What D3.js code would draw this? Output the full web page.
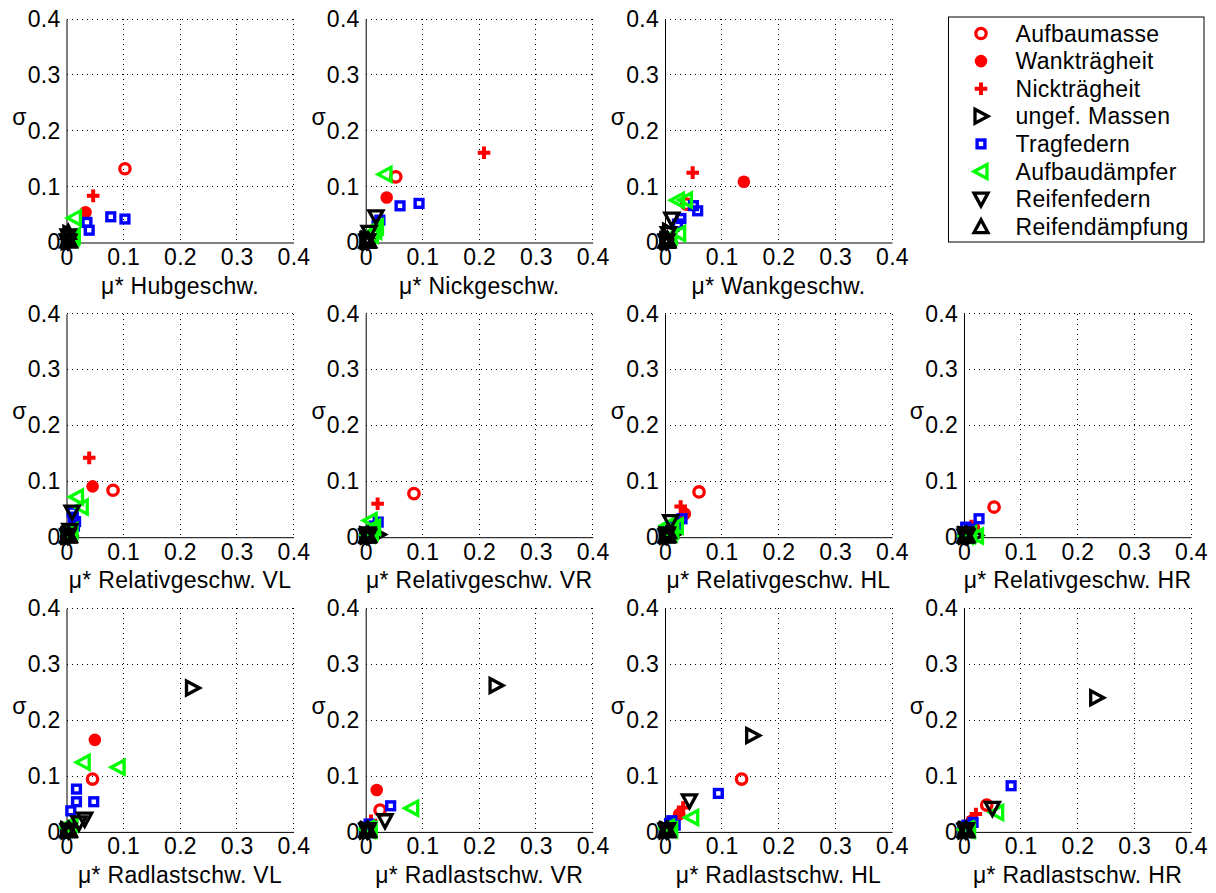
<!DOCTYPE html>
<html>
<head>
<meta charset="utf-8">
<script src="https://cdn.jsdelivr.net/npm/d3@7"></script>
<style>
  html, body { margin: 0; padding: 0; background: #fff; }
  svg { display: block; }
  text { font-family: "Liberation Sans", Arial, Helvetica, sans-serif; fill: #000; letter-spacing: 0.3px; }
</style>
</head>
<body>
<svg id="chart" width="1216" height="893"></svg>
<script>
// Sensitivity measures (mu*, sigma) for each output quantity
const xLabels = [
  "\u03bc* Hubgeschw.", "\u03bc* Nickgeschw.", "\u03bc* Wankgeschw.",
  "\u03bc* Relativgeschw. VL", "\u03bc* Relativgeschw. VR", "\u03bc* Relativgeschw. HL", "\u03bc* Relativgeschw. HR",
  "\u03bc* Radlastschw. VL", "\u03bc* Radlastschw. VR", "\u03bc* Radlastschw. HL", "\u03bc* Radlastschw. HR"
];
const yLabel = "\u03c3";
const tickValues = [0, 0.1, 0.2, 0.3, 0.4];
const tickLabels = ["0", "0.1", "0.2", "0.3", "0.4"];
const seriesNames = ["Aufbaumasse", "Wanktr\u00e4gheit", "Nicktr\u00e4gheit", "ungef. Massen",
  "Tragfedern", "Aufbaud\u00e4mpfer", "Reifenfedern", "Reifend\u00e4mpfung"];

// one entry per output quantity, each a list of [mu*, sigma] points
const aufbaumasse = [
  [[0.103, 0.132]], [[0.053, 0.1175]], [[0.038, 0.0686]],
  [[0.082, 0.084]], [[0.085, 0.078]], [[0.060, 0.081]], [[0.053, 0.054]],
  [[0.0458, 0.0946]], [[0.0253, 0.039]], [[0.135, 0.0946]], [[0.040, 0.048]]
];
const wanktraegheit = [
  [[0.0335, 0.054]], [[0.037, 0.0805]], [[0.139, 0.1086]],
  [[0.046, 0.091]], [[0.0147, 0.0168]], [[0.035, 0.042]], [[0.0176, 0.0168]],
  [[0.050, 0.1647]], [[0.0194, 0.0749]], [[0.025, 0.0317]], [[0.0135, 0.020]]
];
const nicktraegheit = [
  [[0.047, 0.0835]], [[0.2085, 0.1605]], [[0.0488, 0.125]],
  [[0.040, 0.142]], [[0.021, 0.060]], [[0.0276, 0.055]], [[0.013, 0.020]],
  [[0.006, 0.005]], [[0.0094, 0.020]], [[0.032, 0.0437]], [[0.021, 0.032]]
];
const ungefMassen = [
  [[0.006, 0.016], [0.004, 0.004], [0.003, 0.002], [0.005, 0.003]],
  [[0.004, 0.006], [0.003, 0.003], [0.005, 0.002], [0.002, 0.004]],
  [[0.008, 0.020], [0.004, 0.005], [0.003, 0.003], [0.005, 0.002]],
  [[0.004, 0.003], [0.002, 0.002], [0.003, 0.004], [0.005, 0.002]],
  [[0.022, 0.005], [0.003, 0.002], [0.004, 0.003], [0.002, 0.004]],
  [[0.014, 0.005], [0.003, 0.002], [0.004, 0.003], [0.002, 0.004]],
  [[0.020, 0.003], [0.003, 0.002], [0.004, 0.003], [0.002, 0.004]],
  [[0.222, 0.2575], [0.004, 0.003], [0.003, 0.002], [0.002, 0.004]],
  [[0.2297, 0.262], [0.003, 0.003], [0.002, 0.002], [0.004, 0.004]],
  [[0.1545, 0.1725], [0.003, 0.003], [0.002, 0.002], [0.004, 0.004]],
  [[0.2338, 0.240], [0.003, 0.003], [0.002, 0.002], [0.004, 0.004]]
];
const tragfedern = [
  [[0.078, 0.046], [0.103, 0.042], [0.036, 0.036], [0.040, 0.022]],
  [[0.0605, 0.0656], [0.094, 0.070], [0.025, 0.040], [0.020, 0.030]],
  [[0.0576, 0.0567], [0.050, 0.066], [0.028, 0.043], [0.022, 0.033]],
  [[0.012, 0.036], [0.016, 0.028], [0.010, 0.045], [0.014, 0.020]],
  [[0.022, 0.027], [0.015, 0.020], [0.010, 0.012], [0.008, 0.008]],
  [[0.030, 0.033], [0.022, 0.025], [0.014, 0.015], [0.018, 0.020]],
  [[0.0265, 0.033], [0.003, 0.018], [0.008, 0.010], [0.012, 0.014]],
  [[0.0176, 0.0766], [0.0176, 0.054], [0.048, 0.054], [0.0076, 0.0377]],
  [[0.044, 0.0467], [0.006, 0.014], [0.010, 0.010], [0.004, 0.006]],
  [[0.094, 0.0689], [0.012, 0.020], [0.018, 0.012], [0.008, 0.015]],
  [[0.083, 0.0826], [0.016, 0.017], [0.005, 0.012], [0.010, 0.010]]
];
const aufbaudaempfer = [
  [[0.014, 0.044], [0.010, 0.009], [0.008, 0.006], [0.012, 0.012]],
  [[0.034, 0.122], [0.019, 0.028], [0.010, 0.013], [0.016, 0.020]],
  [[0.022, 0.0758], [0.036, 0.076], [0.024, 0.016], [0.009, 0.010]],
  [[0.0176, 0.072], [0.026, 0.054], [0.006, 0.006], [0.008, 0.012]],
  [[0.008, 0.030], [0.010, 0.009], [0.014, 0.018], [0.005, 0.004]],
  [[0.005, 0.021], [0.009, 0.006], [0.020, 0.020], [0.012, 0.012]],
  [[0.008, 0.003], [0.022, 0.002], [0.010, 0.006], [0.004, 0.002]],
  [[0.0294, 0.1245], [0.091, 0.1156], [0.003, 0.008], [0.008, 0.014]],
  [[0.081, 0.0425], [0.003, 0.006], [0.008, 0.004], [0.005, 0.003]],
  [[0.047, 0.0257], [0.005, 0.005], [0.010, 0.004], [0.004, 0.008]],
  [[0.0576, 0.0347], [0.005, 0.005], [0.008, 0.003], [0.003, 0.004]]
];
const reifenfedern = [
  [[0.003, 0.012], [0.002, 0.003], [0.004, 0.002], [0.002, 0.002]],
  [[0.018, 0.046], [0.006, 0.018], [0.003, 0.003], [0.002, 0.002]],
  [[0.012, 0.042], [0.006, 0.016], [0.003, 0.003], [0.002, 0.002]],
  [[0.010, 0.045], [0.006, 0.012], [0.003, 0.003], [0.002, 0.002]],
  [[0.004, 0.006], [0.003, 0.003], [0.002, 0.002], [0.005, 0.002]],
  [[0.010, 0.028], [0.004, 0.006], [0.003, 0.003], [0.002, 0.002]],
  [[0.003, 0.006], [0.004, 0.003], [0.002, 0.002], [0.005, 0.002]],
  [[0.032, 0.0228], [0.022, 0.016], [0.004, 0.003], [0.003, 0.002]],
  [[0.034, 0.020], [0.004, 0.004], [0.003, 0.002], [0.002, 0.003]],
  [[0.043, 0.0557], [0.004, 0.004], [0.003, 0.002], [0.002, 0.003]],
  [[0.050, 0.042], [0.004, 0.004], [0.003, 0.002], [0.002, 0.003]]
];
const reifendaempfung = [
  [[0.003, 0.018], [0.004, 0.004], [0.002, 0.003], [0.005, 0.003]],
  [[0.004, 0.004], [0.003, 0.002], [0.002, 0.003], [0.005, 0.003]],
  [[0.004, 0.006], [0.003, 0.002], [0.002, 0.003], [0.005, 0.003]],
  [[0.004, 0.004], [0.003, 0.002], [0.002, 0.003], [0.005, 0.003]],
  [[0.004, 0.004], [0.003, 0.002], [0.002, 0.003], [0.005, 0.003]],
  [[0.006, 0.010], [0.003, 0.002], [0.002, 0.003], [0.005, 0.003]],
  [[0.004, 0.004], [0.003, 0.002], [0.002, 0.003], [0.005, 0.003]],
  [[0.004, 0.004], [0.003, 0.002], [0.002, 0.003], [0.005, 0.003]],
  [[0.004, 0.004], [0.003, 0.002], [0.002, 0.003], [0.005, 0.003]],
  [[0.004, 0.004], [0.003, 0.002], [0.002, 0.003], [0.005, 0.003]],
  [[0.004, 0.004], [0.003, 0.002], [0.002, 0.003], [0.005, 0.003]]
];

const seriesData = [aufbaumasse, wanktraegheit, nicktraegheit, ungefMassen,
  tragfedern, aufbaudaempfer, reifenfedern, reifendaempfung];

// marker style for each series (same order as seriesNames)
const RED = "#ff0000", BLUE = "#0000ff", GREEN = "#00ff00", BLACK = "#000000";
const markerStyles = [
  { shape: "circle", color: RED, filled: false },
  { shape: "circle", color: RED, filled: true },
  { shape: "plus", color: RED },
  { shape: "triRight", color: BLACK },
  { shape: "square", color: BLUE },
  { shape: "triLeft", color: GREEN },
  { shape: "triDown", color: BLACK },
  { shape: "triUp", color: BLACK }
];

function drawMarker(g, style) {
  const c = style.color;
  switch (style.shape) {
    case "circle":
      if (style.filled) g.append("circle").attr("r", 6.3).attr("fill", c);
      else g.append("circle").attr("r", 5.2).attr("fill", "none").attr("stroke", c).attr("stroke-width", 3.3);
      break;
    case "plus":
      g.append("path").attr("d", "M-6.3,0H6.3M0,-6.3V6.3").attr("stroke", c).attr("stroke-width", 4).attr("fill", "none");
      break;
    case "square":
      g.append("rect").attr("x", -3.9).attr("y", -3.9).attr("width", 7.8).attr("height", 7.8)
        .attr("fill", "none").attr("stroke", c).attr("stroke-width", 3.4);
      break;
    default: {
      const paths = {
        triRight: "M7,0L-6,-7L-6,7Z",
        triLeft: "M-7,0L6,-7L6,7Z",
        triDown: "M0,7L-7,-6L7,-6Z",
        triUp: "M0,-7L-7,6L7,6Z"
      };
      g.append("path").attr("d", paths[style.shape]).attr("fill", "none")
        .attr("stroke", c).attr("stroke-width", 3.3).attr("stroke-linejoin", "miter");
    }
  }
}

const svg = d3.select("#chart");
const FONT = 23;
const plotW = 227, plotH = 223.5;
const colLeft = [66.5, 365.7, 665, 964];
const rowTop = [19, 313.7, 608.4];

// panel slots: first row has three plots, the legend sits in the fourth slot
const slots = [[0, 0], [0, 1], [0, 2], [1, 0], [1, 1], [1, 2], [1, 3], [2, 0], [2, 1], [2, 2], [2, 3]];

slots.forEach(([r, c], pi) => {
  const g = svg.append("g").attr("transform", `translate(${colLeft[c]},${rowTop[r]})`);
  const x = d3.scaleLinear().domain([0, 0.4]).range([0, plotW]);
  const y = d3.scaleLinear().domain([0, 0.4]).range([plotH, 0]);

  // dotted grid
  const grid = g.append("g").attr("stroke", "#000").attr("stroke-width", 1)
    .attr("stroke-dasharray", "1,4").attr("shape-rendering", "crispEdges");
  tickValues.slice(1).forEach(v => {
    grid.append("line").attr("x1", x(v)).attr("x2", x(v)).attr("y1", 0).attr("y2", plotH);
    grid.append("line").attr("x1", 0).attr("x2", plotW).attr("y1", y(v)).attr("y2", y(v));
  });

  // axes
  const xAxis = d3.axisBottom(x).tickValues(tickValues).tickFormat((d, i) => tickLabels[i])
    .tickSize(0).tickPadding(6);
  const yAxis = d3.axisLeft(y).tickValues(tickValues).tickFormat((d, i) => tickLabels[i])
    .tickSize(0).tickPadding(6);
  const gx = g.append("g").attr("transform", `translate(0,${plotH})`).call(xAxis);
  const gy = g.append("g").call(yAxis);
  [gx, gy].forEach(ax => {
    ax.attr("font-size", FONT).attr("font-family", null);
    ax.select(".domain").attr("stroke", "#000").attr("stroke-width", 1);
    ax.selectAll("text").attr("fill", "#000");
  });

  // labels
  g.append("text").attr("x", plotW / 2).attr("y", plotH + 51)
    .attr("text-anchor", "middle").attr("font-size", FONT).text(xLabels[pi]);
  g.append("text").attr("x", -47).attr("y", plotH / 2 - 6)
    .attr("text-anchor", "middle").attr("font-size", FONT).text(yLabel);

  // markers
  seriesData.forEach((series, si) => {
    series[pi].forEach(([mu, sig]) => {
      const m = g.append("g").attr("transform", `translate(${x(mu)},${y(sig)})`);
      drawMarker(m, markerStyles[si]);
    });
  });
});

// legend
const lg = svg.append("g").attr("transform", "translate(948.5,17)");
lg.append("rect").attr("width", 255.5).attr("height", 225).attr("fill", "#fff")
  .attr("stroke", "#000").attr("stroke-width", 1);
seriesNames.forEach((name, i) => {
  const cy = 16.5 + i * 27.6;
  const m = lg.append("g").attr("transform", `translate(32.5,${cy})`);
  drawMarker(m, markerStyles[i]);
  lg.append("text").attr("x", 67).attr("y", cy + 8).attr("font-size", FONT).text(name);
});
</script>
</body>
</html>
